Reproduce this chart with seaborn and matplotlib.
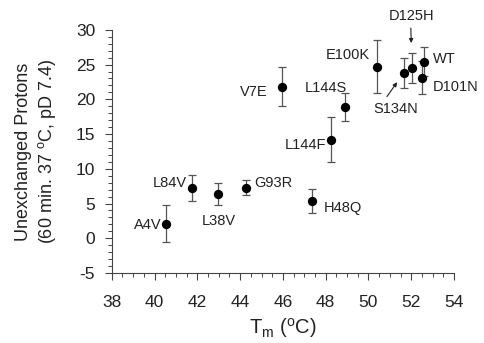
import numpy as np
import pandas as pd
import seaborn as sns
import matplotlib.pyplot as plt
from matplotlib.ticker import MultipleLocator

# data
mutants = ['A4V', 'L84V', 'L38V', 'G93R', 'H48Q', 'V7E', 'L144F', 'L144S',
           'E100K', 'S134N', 'D125H', 'WT', 'D101N']
tm = [40.52, 41.77, 42.97, 44.29, 47.36, 45.96, 48.23, 48.9,
      50.38, 51.66, 52.03, 52.58, 52.5]
protons = [2.1, 7.2, 6.4, 7.3, 5.4, 21.8, 14.2, 18.9,
           24.7, 23.85, 24.5, 25.4, 23.1]
err = [2.7, 1.9, 1.55, 1.05, 1.7, 2.8, 3.2, 2.0,
       3.8, 2.15, 2.1, 2.1, 2.4]

# label offsets in pixels (dx, dy, ha)
label_pos = {
    'A4V': (-4, -1, 'right'), 'L84V': (-6, 5, 'right'), 'L38V': (1, -27, 'center'),
    'G93R': (8, 5, 'left'), 'H48Q': (12, -7, 'left'), 'V7E': (-14, -5, 'right'),
    'L144F': (-4, -5, 'right'), 'L144S': (2, 19, 'right'), 'E100K': (-7, 12, 'right'),
    'WT': (9, 3, 'left'), 'D101N': (11, -9, 'left'),
    'D125H': (0, 52, 'center'), 'S134N': (-8, -36, 'center'),
}
# arrows: (start dx, start dy) in pixels, shrink at the point end in points
arrow_pos = {'D125H': ((-1, 40), 18), 'S134N': ((-17, -24), 8.5)}

df = pd.DataFrame({'mutant': mutants, 'tm': tm, 'protons': protons, 'err': err})

sns.set_style('ticks')
plt.rcParams['font.family'] = ['Liberation Sans', 'DejaVu Sans']
plt.rcParams['mathtext.fontset'] = 'custom'
plt.rcParams['mathtext.rm'] = 'Liberation Sans'
plt.rcParams['mathtext.it'] = 'Liberation Sans'
plt.rcParams['axes.unicode_minus'] = False

fig = plt.figure(figsize=(4.84, 3.43), dpi=100)
ax = fig.add_axes([0.231, 0.204, 0.707, 0.709])

ax.errorbar(df['tm'], df['protons'], yerr=df['err'], fmt='none',
            ecolor='#555555', elinewidth=0.9, capsize=2.8, capthick=0.9, zorder=2)
sns.scatterplot(data=df, x='tm', y='protons', color='black', s=45,
                edgecolor='black', linewidth=0, ax=ax, zorder=3)

for m, x, y in zip(mutants, tm, protons):
    dx, dy, ha = label_pos[m]
    ax.annotate(m, (x, y), xytext=(dx, dy), textcoords='offset pixels',
                ha=ha, va='center', fontsize=10.5, color='#222222')
    if m in arrow_pos:
        (sx, sy), shr = arrow_pos[m]
        ax.annotate('', (x, y), xytext=(sx, sy), textcoords='offset pixels',
                    arrowprops=dict(arrowstyle='-|>', color='#222222', lw=0.8,
                                    mutation_scale=6, shrinkA=0, shrinkB=shr))

ax.set_xlim(38, 54)
ax.set_ylim(-5, 30)
ax.xaxis.set_major_locator(MultipleLocator(2))
ax.xaxis.set_minor_locator(MultipleLocator(0.5))
ax.yaxis.set_major_locator(MultipleLocator(5))
ax.yaxis.set_minor_locator(MultipleLocator(1))
ax.tick_params(which='major', length=5, width=0.8, color='#444444', labelsize=12.5,
               labelcolor='#222222')
ax.tick_params(which='minor', length=3, width=0.7, color='#444444')
ax.tick_params(axis='x', which='major', pad=11)
ax.tick_params(axis='y', which='major', pad=7)
for s in ['left', 'bottom']:
    ax.spines[s].set_color('#444444')
    ax.spines[s].set_linewidth(0.8)
sns.despine(ax=ax)

ax.set_xlabel('T$_{m}$ ($^{o}$C)', fontsize=14.5, color='#222222', labelpad=4)
ax.set_ylabel('Unexchanged Protons\n(60 min. 37 $^{o}$C, pD 7.4)', fontsize=13,
              color='#222222', linespacing=1.2, labelpad=13)

fig.savefig('out.png', dpi=100)
